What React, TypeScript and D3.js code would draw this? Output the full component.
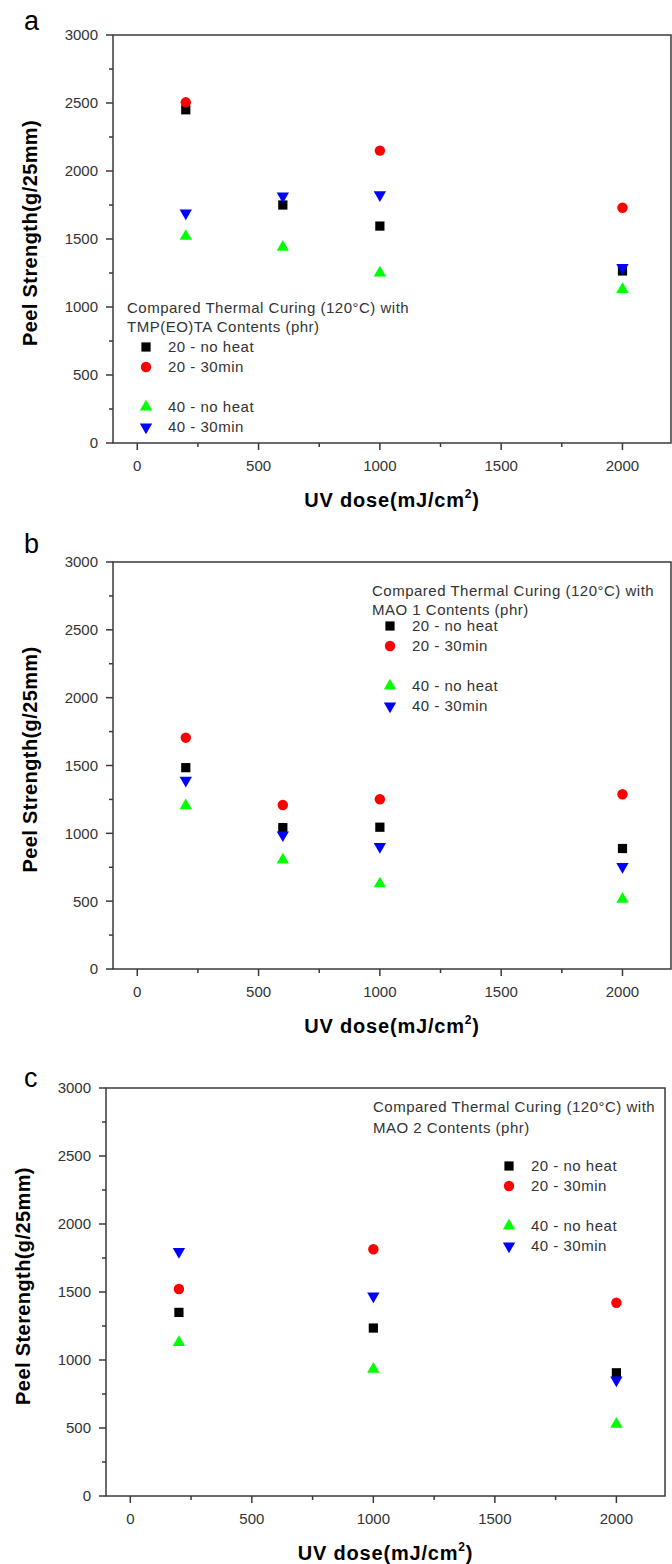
import React from 'react';
import * as d3 from 'd3';

// series shared by all three panels
const seriesNames = ['20 - no heat', '20 - 30min', '40 - no heat', '40 - 30min'];
const seriesColors = ['#000000', '#ff0000', '#00ff00', '#0000ff'];
const xTickValues = [0, 500, 1000, 1500, 2000];
const yTickValues = [0, 500, 1000, 1500, 2000, 2500, 3000];

// panel a - TMP(EO)TA
const dosesA = [200, 600, 1000, 2000];
const a20NoHeat = [2450, 1750, 1595, 1265];
const a20Heat = [2505, null, 2150, 1730];
const a40NoHeat = [1520, 1440, 1250, 1130];
const a40Heat = [1690, 1815, 1825, 1290];

// panel b - MAO 1
const dosesB = [200, 600, 1000, 2000];
const b20NoHeat = [1484, 1042, 1045, 888];
const b20Heat = [1705, 1209, 1251, 1288];
const b40NoHeat = [1204, 804, 628, 515];
const b40Heat = [1390, 988, 902, 755];

// panel c - MAO 2
const dosesC = [200, 1000, 2000];
const c20NoHeat = [1350, 1235, 906];
const c20Heat = [1522, 1814, 1421];
const c40NoHeat = [1130, 933, 528];
const c40Heat = [1797, 1470, 852];

const FONT = '"Liberation Sans", Arial, Helvetica, sans-serif';
const AXIS = '#3a3a3a';

const symbolPath = (i: number) => {
  const types = [d3.symbolSquare, d3.symbolCircle, d3.symbolTriangle, d3.symbolTriangle];
  const sizes = [85, 85, 66, 66];
  return d3.symbol().type(types[i]).size(sizes[i])() as string;
};

const panels = [
  {
    label: 'a', labelY: 30,
    left: 113, right: 671, top: 35, bottom: 443,
    doses: dosesA, series: [a20NoHeat, a20Heat, a40NoHeat, a40Heat],
    yTitle: 'Peel Strength(g/25mm)',
    subtitle: 'TMP(EO)TA Contents (phr)',
    leg: { titleX: 127, t1: 313, t2: 332, markerX: 146, textX: 168, first: 352 },
  },
  {
    label: 'b', labelY: 553,
    left: 113, right: 671, top: 562, bottom: 969,
    doses: dosesB, series: [b20NoHeat, b20Heat, b40NoHeat, b40Heat],
    yTitle: 'Peel Strength(g/25mm)',
    subtitle: 'MAO 1 Contents (phr)',
    leg: { titleX: 372, t1: 596, t2: 615, markerX: 390, textX: 412, first: 631 },
  },
  {
    label: 'c', labelY: 1087,
    left: 106, right: 665, top: 1088, bottom: 1496,
    doses: dosesC, series: [c20NoHeat, c20Heat, c40NoHeat, c40Heat],
    yTitle: 'Peel Sterength(g/25mm)',
    subtitle: 'MAO 2 Contents (phr)',
    leg: { titleX: 373, t1: 1112, t2: 1133, markerX: 509, textX: 531, first: 1171 },
  },
];

const entryOffsets = [0, 20, 60, 80];

const Panel = ({ p }: { p: any }) => {
  const x = d3.scaleLinear().domain([-100, 2200]).range([p.left, p.right]);
  const y = d3.scaleLinear().domain([0, 3000]).range([p.bottom, p.top]);
  const xMinor = d3.range(250, 2200, 500);
  const yMinor = d3.range(250, 3000, 500);
  const cx = (p.left + p.right) / 2;
  const cy = (p.top + p.bottom) / 2;

  return (
    <g fontFamily={FONT}>
      <text x={24} y={p.labelY} fontSize={27} fill="#000">{p.label}</text>

      {/* frame */}
      <rect x={p.left} y={p.top} width={p.right - p.left} height={p.bottom - p.top}
        fill="none" stroke={AXIS} strokeWidth={1.5} />

      {/* y ticks */}
      {yTickValues.map(v => (
        <g key={'y' + v}>
          <line x1={p.left - 7} x2={p.left} y1={y(v)} y2={y(v)} stroke={AXIS} strokeWidth={1.5} />
          <text x={p.left - 15} y={y(v)} dy="0.36em" textAnchor="end" fontSize={15} fill="#333">{v}</text>
        </g>
      ))}
      {yMinor.map(v => (
        <line key={'ym' + v} x1={p.left - 4} x2={p.left} y1={y(v)} y2={y(v)} stroke={AXIS} strokeWidth={1.5} />
      ))}

      {/* x ticks */}
      {xTickValues.map(v => (
        <g key={'x' + v}>
          <line x1={x(v)} x2={x(v)} y1={p.bottom} y2={p.bottom + 7} stroke={AXIS} strokeWidth={1.5} />
          <text x={x(v)} y={p.bottom + 28} textAnchor="middle" fontSize={15} fill="#333">{v}</text>
        </g>
      ))}
      {xMinor.map(v => (
        <line key={'xm' + v} x1={x(v)} x2={x(v)} y1={p.bottom} y2={p.bottom + 4} stroke={AXIS} strokeWidth={1.5} />
      ))}

      {/* axis titles */}
      <text x={cx} y={p.bottom + 64} textAnchor="middle" fontSize={20} fontWeight="bold" letterSpacing={0.8} fill="#000">
        UV dose(mJ/cm<tspan dy={-9} fontSize={12}>2</tspan><tspan dy={9}>)</tspan>
      </text>
      <text transform={`translate(${p.left - 83},${cy - 6}) rotate(-90)`} dy="0.36em" textAnchor="middle"
        fontSize={20} fontWeight="bold" letterSpacing={0.4} fill="#000">{p.yTitle}</text>

      {/* points */}
      {p.series.map((vals: (number | null)[], si: number) =>
        vals.map((v, i) => v == null ? null : (
          <path key={si + '-' + i} d={symbolPath(si)}
            transform={`translate(${x(p.doses[i])},${y(v)})${si === 3 ? ' rotate(180)' : ''}`}
            fill={seriesColors[si]} />
        ))
      )}

      {/* legend */}
      <g fontSize={15} fill="#333" letterSpacing={0.5}>
        <text x={p.leg.titleX} y={p.leg.t1}>Compared Thermal Curing (120°C) with</text>
        <text x={p.leg.titleX} y={p.leg.t2}>{p.subtitle}</text>
        {seriesNames.map((name, si) => (
          <g key={name}>
            <path d={symbolPath(si)} fill={seriesColors[si]}
              transform={`translate(${p.leg.markerX},${p.leg.first + entryOffsets[si] - 5})${si === 3 ? ' rotate(180)' : ''}`} />
            <text x={p.leg.textX} y={p.leg.first + entryOffsets[si]}>{name}</text>
          </g>
        ))}
      </g>
    </g>
  );
};

export default function App() {
  return (
    <svg width={672} height={1564} style={{ position: 'absolute', left: 0, top: 0, background: '#fff' }}>
      <rect width={672} height={1564} fill="#fff" />
      {panels.map(p => <Panel key={p.label} p={p} />)}
    </svg>
  );
}
